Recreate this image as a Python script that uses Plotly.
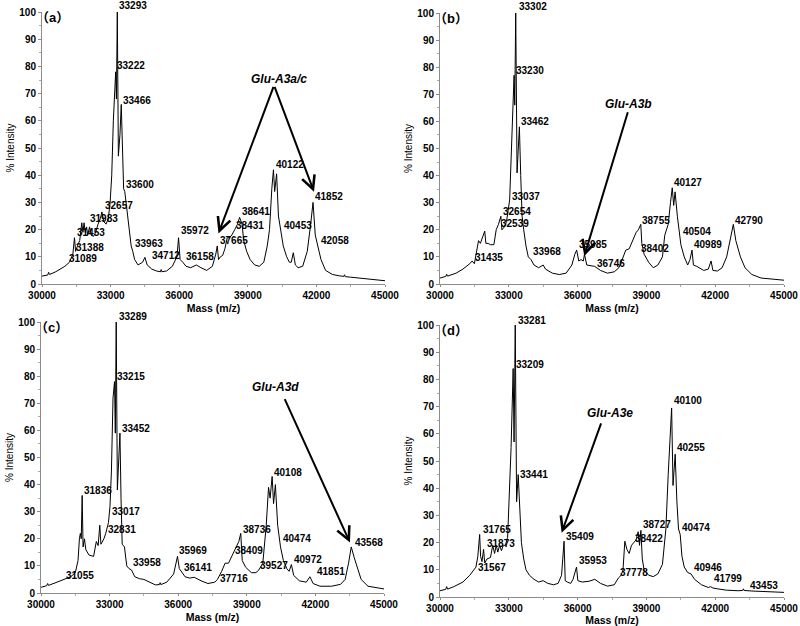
import plotly.graph_objects as go

# ---------------- data (mass, % intensity) ----------------
spectrum_a = [(30000,2.9),(30250,3.3),(30290,4.3),(30330,3.5),(30600,4.5),(31000,6.5),(31200,8),(31350,11),(31420,17),(31470,12),(31550,14),(31650,16),(31740,22.5),(31790,19),(31840,22.5),(31890,19),(31950,21),(32000,18),(32080,21),(32150,18),(32250,17.5),(32350,19),(32450,22),(32550,24),(32620,26.5),(32700,23),(32800,22),(32900,24),(32980,30),(33050,40),(33120,60),(33222,78),(33255,68),(33293,100),(33340,47),(33410,55),(33466,66),(33520,45),(33570,35),(33620,34),(33700,28),(33800,20),(33900,14),(33970,12),(34050,9),(34200,7),(34400,8),(34500,9.8),(34600,7),(34800,5.5),(35000,4.8),(35180,4.5),(35210,5.3),(35240,4.5),(35450,4.8),(35700,6.5),(35900,10),(35972,17),(36040,9),(36158,8),(36300,6.5),(36500,6),(36750,7),(36950,6),(37200,5),(37450,6.5),(37600,11),(37665,14),(37720,9),(37800,10),(37900,10.5),(38000,13),(38100,17),(38200,17),(38300,18),(38431,20),(38550,22),(38641,24.5),(38750,22),(38820,16),(38950,12),(39100,9),(39300,7),(39500,6.5),(39700,8),(39850,14),(39950,20),(40050,35),(40122,42),(40175,34),(40260,40.5),(40340,25),(40453,19),(40550,14),(40700,10),(40820,8),(40900,8),(40990,11.5),(41080,7),(41200,6),(41400,6.5),(41600,12),(41750,22),(41852,30),(41950,18),(42058,14),(42200,9),(42400,5),(42700,3.5),(43000,3),(43200,2.8),(43230,3.4),(43260,2.7),(43500,2.5),(44000,2),(45000,1.2)]

spectrum_b = [(30000,2.2),(30250,2.8),(30290,3.6),(30330,2.9),(30700,4),(31000,5.5),(31300,7.5),(31400,8.5),(31500,7.5),(31600,13),(31680,16),(31760,15),(31850,17),(31950,19.5),(32000,15),(32100,15),(32200,14.5),(32350,14.5),(32450,20),(32550,22),(32654,25),(32700,20),(32800,21),(32900,23),(33037,31),(33100,45),(33160,62),(33230,77),(33260,66),(33302,100),(33360,41),(33420,50),(33462,58),(33520,40),(33580,25),(33650,20),(33750,14),(33850,10),(33968,9),(34100,7),(34300,6),(34500,7),(34600,5.5),(34900,4),(35200,3.5),(35500,4),(35750,7),(35880,11),(35960,12.5),(36050,8.5),(36150,9),(36250,8.5),(36300,11),(36400,7),(36746,6.5),(37000,5),(37300,4),(37600,4.5),(37800,6),(37900,8),(38100,12.5),(38250,13),(38402,16),(38550,19),(38650,20),(38755,22),(38800,15),(38900,11),(39100,8),(39300,6),(39500,7),(39700,10),(39800,18),(39950,22),(40050,30),(40127,35.5),(40190,29),(40250,34),(40350,25),(40504,14.5),(40650,10),(40800,7),(40900,9),(40989,12.5),(41050,7),(41200,6.5),(41500,5),(41700,5.5),(41820,8.5),(41900,5),(42100,4.8),(42300,6),(42500,10),(42650,17),(42790,22),(42900,16),(43000,13),(43100,10),(43300,6),(43600,3.5),(44000,2.2),(44500,1.8),(45000,1.4)]

spectrum_c = [(30000,2.1),(30250,2.7),(30290,3.5),(30330,2.8),(30700,4),(31000,5),(31300,6),(31500,7.5),(31620,12),(31680,20),(31720,22),(31760,20),(31800,36),(31840,17),(31900,20),(31960,16),(32100,14),(32300,13.5),(32420,19),(32500,17.5),(32570,25),(32620,18),(32750,20),(32831,22),(32950,26),(33017,32),(33080,45),(33150,72),(33215,78),(33250,59),(33289,100),(33340,38),(33400,50),(33452,59),(33500,35),(33550,18),(33650,17),(33750,10),(33850,9),(33958,8.5),(34100,6),(34300,5.3),(34500,5),(34800,3.8),(35000,3),(35180,3.1),(35210,3.8),(35240,3.1),(35500,4),(35800,7),(35969,13.5),(36050,9),(36141,8),(36300,6),(36500,5.5),(36700,5.8),(37000,4.5),(37300,3.5),(37600,4),(37716,5),(37900,8),(38050,11),(38200,11),(38409,14.5),(38550,17),(38650,19),(38736,22),(38800,12),(38950,9.5),(39200,7.5),(39400,7.5),(39527,8.5),(39700,11),(39850,25),(39950,39),(40020,35),(40108,43),(40170,33),(40250,40),(40350,25),(40474,17),(40600,12),(40750,9),(40850,8),(40950,10.5),(41050,6.5),(41300,4.5),(41600,4),(41760,6),(41900,3.5),(42200,2.5),(42700,2.5),(43100,3.2),(43300,5),(43450,11),(43568,17),(43700,13),(43800,10),(44000,5),(44300,2.5),(44700,1.8),(45000,1.5)]

spectrum_d = [(30000,2.3),(30250,2.8),(30290,3.8),(30330,2.9),(30600,3.8),(31000,5.5),(31300,8),(31450,9.5),(31567,11),(31650,15),(31730,23),(31770,15),(31830,13),(31900,17.5),(31950,12.5),(32050,14),(32200,14.5),(32300,19),(32380,16),(32450,19),(32520,16.5),(32600,19),(32680,17),(32760,19),(32850,19),(32950,22),(33030,38),(33100,55),(33190,84),(33230,57),(33281,100),(33340,35),(33410,45),(33470,33),(33550,20),(33650,14),(33750,10),(33900,8),(34100,6.5),(34300,5.5),(34500,6),(34700,5),(34950,4.5),(35150,5),(35300,8),(35409,20.5),(35460,6),(35550,5.5),(35700,5),(35800,6.5),(35953,11),(36010,6),(36200,5.5),(36500,5.8),(36750,6.5),(37000,5),(37300,4),(37600,4.5),(37780,7),(37900,8),(37980,10),(38060,20.5),(38150,17.5),(38250,16),(38350,19),(38450,20),(38550,21),(38640,24),(38700,19),(38760,24.5),(38820,14),(38900,10),(39100,8),(39300,7.5),(39500,8.5),(39700,12),(39850,25),(39950,45),(40050,65),(40100,69.5),(40160,41),(40220,50),(40255,52.5),(40330,35),(40400,25),(40474,23),(40550,15),(40650,11),(40800,9),(40946,8.5),(41100,6.5),(41400,4.5),(41700,3.5),(41800,3.8),(41900,3.3),(42100,3),(42500,2.5),(43000,2.3),(43200,2.4),(43230,3),(43260,2.4),(43600,2.2),(44300,2),(45000,1.7)]

# peak labels: (text, mass, intensity)
labels_a = [("33293",33276,102.4),("33222",33203,80.4),("33466",33451,67.6),("33600",33596,36.6),("32657",32665,29),("31983",31995,23.9),("31453",31456,19),("31388",31412,13.5),("31089",31092,9.4),("33963",33975,14.9),("34712",34703,10.3),("35972",35970,19.5),("36158",36188,10),("37665",37717,15.9),("38431",38416,21.4),("38641",38663,26.8),("40122",40148,43.9),("40453",40483,21.4),("41852",41866,32),("42058",42114,15.9)]
labels_b = [("33302",33342,102.5),("33230",33240,78.9),("33462",33458,59.8),("33037",33051,32.2),("32654",32645,26.9),("32539",32557,22.4),("31435",31424,9.8),("33968",33952,11.9),("35985",35986,14.4),("36746",36757,7.6),("38402",38689,13.1),("38755",38718,23.6),("40127",40099,37.3),("40504",40490,19.3),("40989",41000,14.4),("42790",42787,23.6)]
labels_c = [("33289",33320,102.1),("33215",33247,79.8),("33452",33465,60.7),("31836",31791,38),("33017",32999,30),("32831",32854,23.3),("31055",31019,6.5),("33958",33946,11.4),("35969",35940,15.7),("36141",36159,9.4),("37716",37760,5.5),("38409",38387,15.7),("38736",38737,23.6),("39527",39508,10.1),("40108",40090,44.4),("40474",40498,20.2),("40972",40993,12.5),("41851",41983,8),("43568",43628,18.8)]
labels_d = [("33281",33298,101.5),("33209",33240,85.3),("33441",33415,45),("31765",31773,24.9),("31873",31962,19.6),("31567",31569,11),("35409",35405,22.1),("35953",35957,13.5),("37778",37774,9),("38422",38427,21.5),("38727",38747,26.7),("40100",40098,72.4),("40255",40258,54.9),("40474",40462,25.5),("40946",40970,11),("41799",41871,6.7),("43453",43440,4.3)]

# variant names and arrows: (name, name_x, name_y, [(tail_x, tail_y, head_x, head_y), ...])
variant_a = ("Glu-A3a/c", 40381, 75.3, [(40148, 73, 37717, 18.6), (40148, 73, 41895, 33.9)])
variant_b = ("Glu-A3b", 38224, 66.3, [(38209, 63.9, 36291, 10.3)])
variant_c = ("Glu-A3d", 40236, 75.9, [(40629, 72.1, 43512, 18.6)])
variant_d = ("Glu-A3e", 37410, 67.7, [(37047, 64.4, 35303, 23.6)])

panel_tags = ["（a）", "（b）", "（c）", "（d）"]
x_ticks = [30000, 33000, 36000, 39000, 42000, 45000]
y_ticks = [0, 10, 20, 30, 40, 50, 60, 70, 80, 90, 100]

# ---------------- figure ----------------
W, H = 800, 626
FONT = "Liberation Sans, Arial, sans-serif"
Y_MAX = 100.0

# plot areas in pixels: (x0, x1, ytop, ybottom)
areas = [(42, 385, 12, 284), (440, 784, 13, 284), (41, 384, 322, 593), (440, 784, 325, 597)]

fig = go.Figure()
spectra = [spectrum_a, spectrum_b, spectrum_c, spectrum_d]
labels = [labels_a, labels_b, labels_c, labels_d]
variants = [variant_a, variant_b, variant_c, variant_d]

annotations = []
for i in range(4):
    n = "" if i == 0 else str(i + 1)
    xa, ya = "x" + n, "y" + n
    ydom = ya + " domain"
    xdom = xa + " domain"
    mx = [p[0] for p in spectra[i]]
    my = [p[1] for p in spectra[i]]
    fig.add_trace(go.Scatter(x=mx, y=my, mode="lines", xaxis=xa, yaxis=ya,
                             line=dict(color="black", width=1), showlegend=False,
                             hoverinfo="skip"))
    x0, x1, yt, yb = areas[i]
    fig.layout["xaxis" + n] = dict(
        domain=[x0 / W, x1 / W], anchor=ya, range=[30000, 45000], automargin=False,
        tickvals=x_ticks, ticktext=[str(v) for v in x_ticks],
        showline=True, linecolor="#8c8c8c", linewidth=1,
        ticks="outside", ticklen=2, tickcolor="#8c8c8c",
        minor=dict(ticks="outside", ticklen=2, dtick=1500, tickcolor="#aaaaaa"),
        showgrid=False, zeroline=False,
        tickfont=dict(family=FONT, size=10, color="black", weight="bold"),
        title=dict(text="Mass (m/z)", standoff=4,
                   font=dict(family=FONT, size=10.5, color="black", weight="bold")))
    fig.layout["yaxis" + n] = dict(
        domain=[1 - yb / H, 1 - yt / H], anchor=xa, range=[0, Y_MAX], automargin=False,
        tickvals=y_ticks, showline=True, linecolor="#8c8c8c", linewidth=1,
        ticks="outside", ticklen=3, tickcolor="#8c8c8c",
        minor=dict(ticks="outside", ticklen=2, dtick=5, tickcolor="#aaaaaa"),
        showgrid=False, zeroline=False,
        tickfont=dict(family=FONT, size=10, color="black", weight="bold"),
        title=dict(text="% Intensity", standoff=2,
                   font=dict(family=FONT, size=10, color="black")))
    for txt, lx, ly in labels[i]:
        annotations.append(dict(x=lx, y=ly / Y_MAX, xref=xa, yref=ydom, text=txt, showarrow=False,
                                xanchor="left", yanchor="middle",
                                font=dict(family=FONT, size=10, color="black", weight="bold")))
    name, nx, ny, arrows = variants[i]
    annotations.append(dict(x=nx, y=ny, xref=xa, yref=ya, text="<i>" + name + "</i>",
                            showarrow=False, xanchor="center", yanchor="middle",
                            font=dict(family=FONT, size=12, color="black", weight="bold")))
    for tx, ty, hx, hy in arrows:
        annotations.append(dict(x=hx, y=hy, xref=xa, yref=ya, ax=tx, ay=ty,
                                axref=xa, ayref=ya, text="", showarrow=True,
                                arrowhead=5, arrowsize=1.3, arrowwidth=2,
                                arrowcolor="black", standoff=0, startstandoff=0))
    annotations.append(dict(x=-0.022, y=0.98, xref=xdom, yref=ydom, text=panel_tags[i],
                            showarrow=False, xanchor="left", yanchor="middle",
                            font=dict(family="Liberation Sans, Noto Sans CJK SC", size=13,
                                      color="black", weight="bold")))

fig.update_layout(width=W, height=H, margin=dict(l=0, r=0, t=0, b=0, autoexpand=False),
                  paper_bgcolor="white", plot_bgcolor="white",
                  annotations=annotations, showlegend=False)

fig.write_html("out.html", config={"displayModeBar": False},
               post_script="document.body.style.margin='0px';")
